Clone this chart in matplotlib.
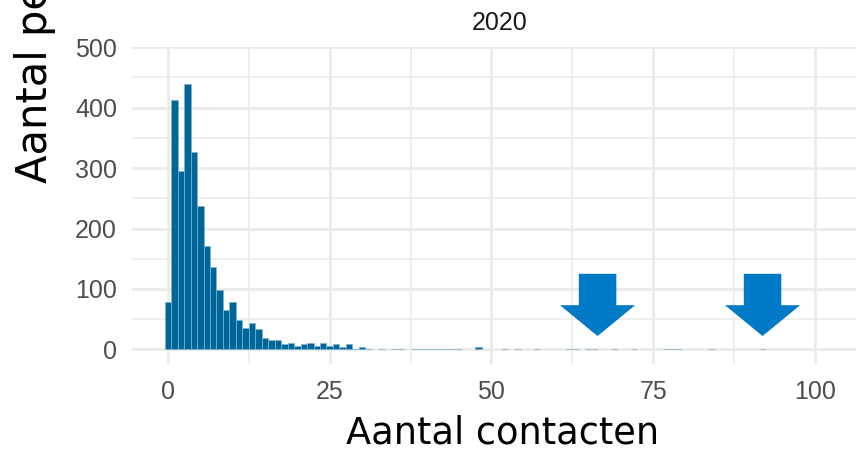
import matplotlib
matplotlib.use("Agg")
import matplotlib.pyplot as plt
from matplotlib.patches import Polygon
from matplotlib.ticker import MultipleLocator

# ---- data ----
contacts = [0, 1, 2, 3, 4, 5, 6, 7, 8, 9, 10, 11, 12, 13, 14, 15, 16, 17, 18, 19,
            20, 21, 22, 23, 24, 25, 26, 27, 28, 29, 30, 31, 33, 35, 36, 38, 39, 40,
            41, 42, 43, 44, 45, 48, 52, 54, 57, 62, 63, 65, 66, 69, 72, 77, 78, 79,
            84, 92]
counts = [78, 412, 296, 440, 326, 238, 171, 137, 98, 65, 78, 48, 35, 43, 33, 18, 16, 16, 9, 10,
          6, 9, 10, 6, 10, 6, 9, 4, 9, 1, 3, 1, 1, 1, 1, 1, 1, 1,
          1, 1, 1, 1, 1, 3, 1, 1, 1, 1, 1, 1, 1, 1, 1, 1, 1, 1,
          1, 1]
arrow_x = [66.4, 91.9]
x_ticks = [0, 25, 50, 75, 100]
y_ticks = [0, 100, 200, 300, 400, 500]
facet_title = "2020"
x_title = "Aantal contacten"
y_title = "Aantal personen"

bar_color = "#006699"
bar_edge = "#7FB2CC"
arrow_color = "#0079C6"
grid_color = "#EBEBEB"

W, H = 856, 454
fig = plt.figure(figsize=(W / 100, H / 100), dpi=100)
fig.patch.set_facecolor("white")

# axes in pixel geometry (panel extends past right edge, as in the cropped reference)
left_px, right_px, top_px, bottom_px = 132, 868, 47.3, 364.4
ax = fig.add_axes([left_px / W, 1 - bottom_px / H,
                   (right_px - left_px) / W, (bottom_px - top_px) / H])
ax.set_facecolor("white")
for s in ax.spines.values():
    s.set_visible(False)

ax.set_xlim(-5.56, 108.2)
ax.set_ylim(-25, 500)

ax.xaxis.set_minor_locator(MultipleLocator(12.5))
ax.yaxis.set_minor_locator(MultipleLocator(50))
ax.set_xticks(x_ticks)
ax.set_yticks(y_ticks)
ax.grid(which="major", color=grid_color, linewidth=2.0)
ax.grid(which="minor", color=grid_color, linewidth=1.2)
ax.set_axisbelow(True)
ax.tick_params(which="both", length=0)
ax.tick_params(axis="y", pad=10.8, labelsize=18, labelcolor="#4D4D4D")
ax.tick_params(axis="x", pad=11.5, labelsize=18, labelcolor="#4D4D4D")
for lab in ax.get_xticklabels() + ax.get_yticklabels():
    lab.set_fontfamily("Liberation Sans")

ax.bar(contacts, counts, width=1.0, color=bar_color, edgecolor=bar_edge,
       linewidth=0.5, zorder=2)

# block arrows
for xa in arrow_x:
    pts = [(xa - 2.9, 125), (xa + 2.9, 125), (xa + 2.9, 73), (xa + 5.8, 73),
           (xa, 22), (xa - 5.8, 73), (xa - 2.9, 73)]
    ax.add_patch(Polygon(pts, closed=True, facecolor=arrow_color,
                         edgecolor="none", zorder=3))

# facet strip title
fig.text(500 / W, 1 - 30 / H, facet_title, ha="center", va="baseline",
         fontsize=18, color="#1A1A1A", family="Liberation Sans")

# axis titles
fig.text(503 / W, 1 - 444 / H, x_title, ha="center", va="baseline",
         fontsize=26.5, color="black", family="DejaVu Sans")
fig.text(47 / W, 1 - 183 / H, y_title, ha="left", va="baseline",
         rotation=90, rotation_mode="anchor",
         fontsize=30, color="black", family="DejaVu Sans")

fig.savefig("out.png", dpi=100, facecolor="white")
